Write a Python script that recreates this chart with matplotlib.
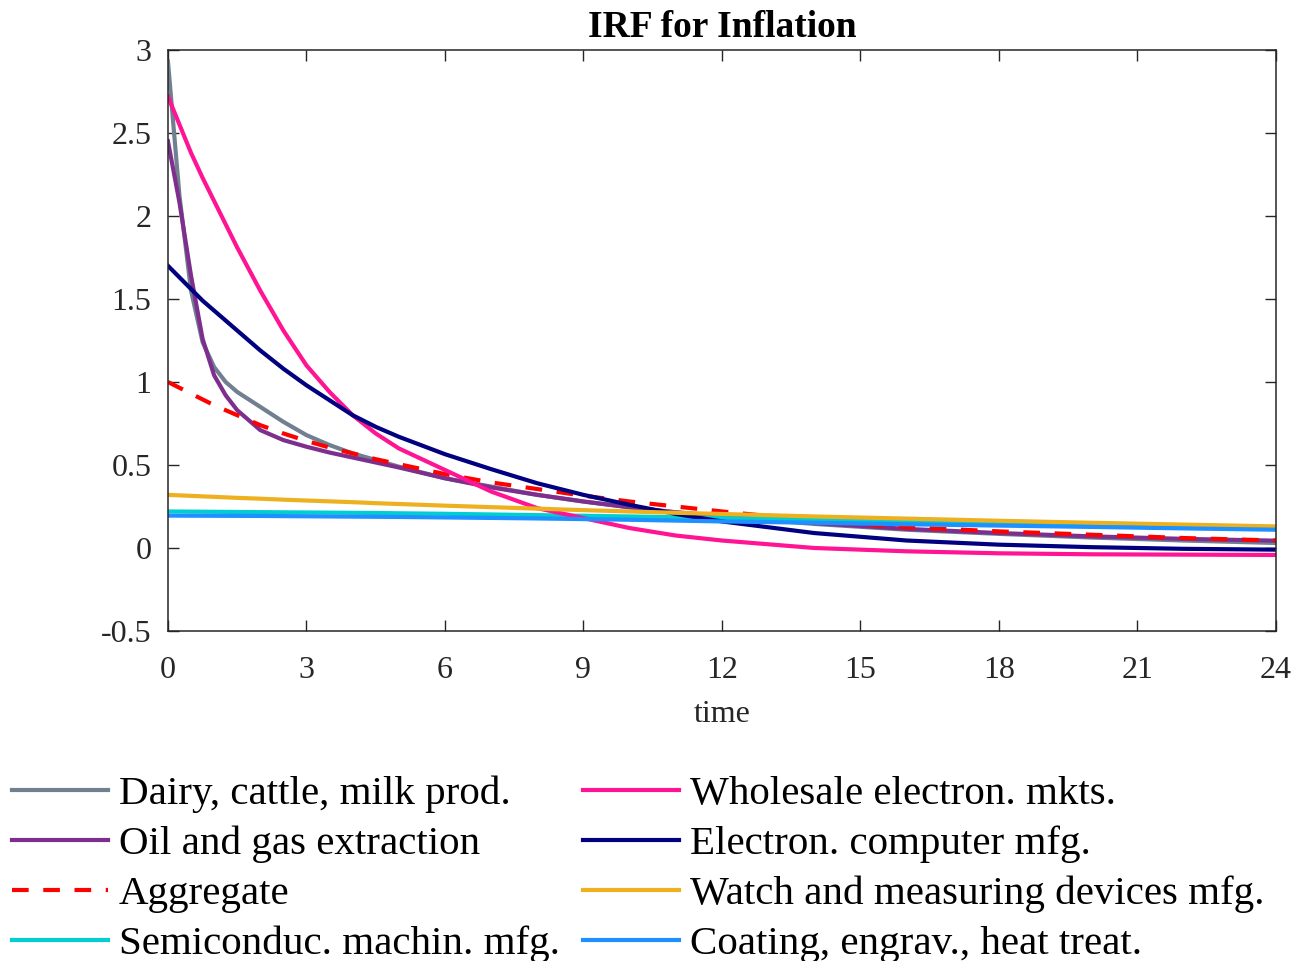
import numpy as np
import matplotlib.pyplot as plt

plt.rcParams['font.family'] = ['Liberation Serif', 'DejaVu Serif']

# time grid of the readings
t = [0, 0.25, 0.5, 0.75, 1, 1.25, 1.5, 2, 2.5, 3, 3.5, 4, 4.5, 5, 6, 7, 8, 9, 10, 11, 12,
     14, 16, 18, 20, 22, 24]

dairy = [2.93, 2.12, 1.55, 1.24, 1.09, 1.00, 0.94, 0.85, 0.76, 0.68, 0.62, 0.57, 0.53, 0.49,
         0.42, 0.37, 0.32, 0.28, 0.245, 0.215, 0.19, 0.145, 0.11, 0.085, 0.063, 0.045, 0.03]
oil = [2.45, 2.08, 1.64, 1.26, 1.04, 0.92, 0.83, 0.71, 0.65, 0.61, 0.575, 0.545, 0.515, 0.485,
       0.42, 0.365, 0.32, 0.28, 0.245, 0.215, 0.19, 0.15, 0.115, 0.09, 0.07, 0.055, 0.044]
aggregate = [1.0, 0.965, 0.93, 0.895, 0.86, 0.83, 0.80, 0.74, 0.69, 0.645, 0.605, 0.57, 0.535,
             0.505, 0.445, 0.395, 0.355, 0.315, 0.28, 0.25, 0.22, 0.165, 0.125, 0.10, 0.08,
             0.06, 0.045]
semicond = [0.22, 0.2195, 0.219, 0.2185, 0.218, 0.2175, 0.217, 0.216, 0.215, 0.214, 0.213,
            0.212, 0.211, 0.209, 0.206, 0.202, 0.198, 0.194, 0.19, 0.185, 0.18, 0.17, 0.16,
            0.15, 0.14, 0.13, 0.12]
wholesale = [2.72, 2.55, 2.38, 2.23, 2.09, 1.95, 1.81, 1.55, 1.31, 1.10, 0.94, 0.80, 0.69, 0.60,
             0.47, 0.34, 0.24, 0.18, 0.12, 0.075, 0.045, 0.0, -0.02, -0.032, -0.038, -0.04,
             -0.042]
computer = [1.70, 1.63, 1.56, 1.49, 1.43, 1.37, 1.31, 1.19, 1.08, 0.98, 0.89, 0.80, 0.73, 0.67,
            0.565, 0.475, 0.39, 0.32, 0.26, 0.205, 0.16, 0.09, 0.045, 0.02, 0.005, -0.005,
            -0.01]
watch = [0.32, 0.317, 0.314, 0.311, 0.308, 0.305, 0.302, 0.297, 0.291, 0.286, 0.281, 0.276,
         0.27, 0.265, 0.255, 0.246, 0.237, 0.228, 0.22, 0.212, 0.205, 0.19, 0.177, 0.164,
         0.152, 0.141, 0.13]
coating = [0.195, 0.1948, 0.1945, 0.1943, 0.194, 0.1937, 0.1935, 0.193, 0.192, 0.191, 0.19,
           0.189, 0.188, 0.187, 0.184, 0.181, 0.178, 0.174, 0.17, 0.165, 0.16, 0.152, 0.143,
           0.135, 0.127, 0.118, 0.11]

labels = ['Dairy, cattle, milk prod.', 'Oil and gas extraction', 'Aggregate',
          'Semiconduc. machin. mfg.', 'Wholesale electron. mkts.', 'Electron. computer mfg.',
          'Watch and measuring devices mfg.', 'Coating, engrav., heat treat.']
series = [dairy, oil, aggregate, semicond, wholesale, computer, watch, coating]
colors = ['#708090', '#7E2F8E', '#FF0000', '#00CED1', '#FF1493', '#000080', '#EDB120', '#1E90FF']

fig = plt.figure(figsize=(13.06, 9.61), dpi=100)
ax = fig.add_axes([0.1286, 0.3434, 0.8484, 0.6046])

lines = []
for y, c, lab in zip(series, colors, labels):
    if lab == 'Aggregate':
        l, = ax.plot(t, y, color=c, lw=3, ls=(0, (4, 3.5)), label=lab)
    else:
        l, = ax.plot(t, y, color=c, lw=3, label=lab)
    lines.append(l)

ax.set_xlim(0, 24)
ax.set_ylim(-0.5, 3)
ax.set_xticks(np.arange(0, 25, 3))
ax.set_yticks([-0.5, 0, 0.5, 1, 1.5, 2, 2.5, 3])
ax.set_yticklabels(['-0.5', '0', '0.5', '1', '1.5', '2', '2.5', '3'])
ax.tick_params(direction='in', length=8, width=1, colors='#262626', labelsize=23,
               top=True, right=True)
ax.tick_params(axis='x', pad=18)
ax.tick_params(axis='y', pad=12)
for s in ax.spines.values():
    s.set_color('#262626')
    s.set_linewidth(1.1)

ax.set_xlabel('time', fontsize=23, color='#262626', labelpad=11)
ax.set_title('IRF for Inflation', fontsize=27, fontweight='bold', pad=9)

fig.legend(lines, labels, loc='upper left', bbox_to_anchor=(0.009, 0.193), ncol=2,
           frameon=False, fontsize=29.5, handlelength=2.35, handletextpad=0.27,
           columnspacing=0.55, labelspacing=0.3, borderpad=0, borderaxespad=0)

fig.savefig('out.png', dpi=100)
